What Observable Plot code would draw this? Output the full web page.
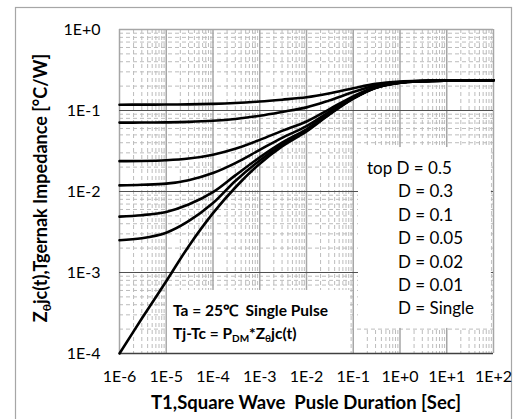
<!DOCTYPE html>
<html><head><meta charset="utf-8">
<script src="https://cdn.jsdelivr.net/npm/d3@7"></script>
<script src="https://cdn.jsdelivr.net/npm/@observablehq/plot@0.6"></script>
<style>
html,body{margin:0;padding:0;background:#fff;}
#chart{width:522px;height:419px;overflow:hidden;}
</style></head><body><div id="chart"></div>
<script>
// ---- data ----
const pulseDuration = [1e-6,3e-6,1e-5,3e-5,1e-4,3e-4,1e-3,3e-3,1e-2,3e-2,1e-1,3e-1,1,3,10,100];
const dutyLabels = ["0.5","0.3","0.1","0.05","0.02","0.01","Single"];
const zD050 = [0.118,0.1181,0.1184,0.1191,0.1207,0.1236,0.129,0.136,0.1455,0.162,0.188,0.213,0.228,0.233,0.235,0.236];
const zD030 = [0.0709,0.0710,0.0714,0.0723,0.0746,0.0786,0.0862,0.096,0.1093,0.1324,0.1688,0.2038,0.2248,0.2318,0.2346,0.236];
const zD010 = [0.0237,0.0238,0.0243,0.0255,0.0285,0.0337,0.0434,0.056,0.0731,0.1028,0.1496,0.1946,0.2216,0.2306,0.2342,0.236];
const zD005 = [0.0119,0.0121,0.0125,0.0138,0.0169,0.0224,0.0327,0.046,0.0641,0.0954,0.1448,0.1923,0.2208,0.2303,0.2341,0.236];
const zD002 = [0.0049,0.0051,0.0056,0.0069,0.0098,0.0158,0.0264,0.0401,0.0587,0.091,0.1418,0.1908,0.2204,0.2302,0.2341,0.236];
const zD001 = [0.0025,0.00265,0.0031,0.0043,0.0072,0.0135,0.0242,0.038,0.0569,0.0895,0.141,0.1904,0.2204,0.2301,0.2341,0.236];
const zSingle = [0.0001,0.00027,0.00078,0.0021,0.0054,0.0112,0.022,0.036,0.055,0.088,0.14,0.19,0.22,0.23,0.234,0.236];
const xTickValues = [1e-6,1e-5,1e-4,1e-3,1e-2,1e-1,1,10,100];
const xTickLabels = ["1E-6","1E-5","1E-4","1E-3","1E-2","1E-1","1E+0","1E+1","1E+2"];
const yTickValues = [1e-4,1e-3,1e-2,1e-1,1];
const yTickLabels = ["1E-4","1E-3","1E-2","1E-1","1E+0"];
const legendLines = ["top D = 0.5","D = 0.3","D = 0.1","D = 0.05","D = 0.02","D = 0.01","D = Single"];

// ---- build table ----
const seriesValues = [zD050,zD030,zD010,zD005,zD002,zD001,zSingle];
const rows = [];
seriesValues.forEach((vals, s) => vals.forEach((z, i) => rows.push({D: dutyLabels[s], t: pulseDuration[i], z})));

const minorX = [], minorY = [];
for (let i = 0; i < xTickValues.length - 1; i++) for (let k = 2; k <= 9; k++) minorX.push(xTickValues[i] * k);
for (let i = 0; i < yTickValues.length - 1; i++) for (let k = 2; k <= 9; k++) minorY.push(yTickValues[i] * k);

const font = "Lato, 'Open Sans', sans-serif";
const W = 522, H = 419, ML = 119, MR = 29, MT = 29, MB = 66;

const chart = Plot.plot({
  width: W, height: H,
  marginLeft: ML, marginRight: MR, marginTop: MT, marginBottom: MB,
  style: {fontFamily: font, background: "#fff", color: "#000", overflow: "visible"},
  x: {type: "log", domain: [1e-6, 100], axis: null},
  y: {type: "log", domain: [1e-4, 1], axis: null},
  marks: [
    Plot.ruleX(minorX, {stroke: "#bcbcbc", strokeWidth: 1, strokeDasharray: "4,3"}),
    Plot.ruleY(minorY, {stroke: "#bcbcbc", strokeWidth: 1, strokeDasharray: "4,3"}),
    Plot.ruleX(xTickValues, {stroke: "#a6a6a6", strokeWidth: 1.5}),
    Plot.ruleY([1], {stroke: "#a6a6a6", strokeWidth: 1.5}),
    Plot.ruleY([1e-3, 1e-2, 1e-1], {stroke: "#505050", strokeWidth: 1}),
    // annotation backgrounds
    Plot.rect([{}], {x1: 0.1295, x2: 90, y1: 2.04e-4, y2: 0.0349, fill: "#fff"}),
    Plot.rect([{}], {x1: 1.06e-5, x2: 0.0875, y1: 1e-4, y2: 6.0e-4, fill: "#fff"}),
    Plot.ruleY([1e-4], {stroke: "#404040", strokeWidth: 1.5}),
    Plot.line(rows, {x: "t", y: "z", z: "D", stroke: "#000", strokeWidth: 2.6, curve: "catmull-rom"}),
    Plot.axisX(xTickValues, {tickSize: 0, tickPadding: 17, fontSize: 16, label: null,
      tickFormat: d => xTickLabels[xTickValues.indexOf(d)]}),
    Plot.axisY(yTickValues, {tickSize: 0, tickPadding: 19, fontSize: 16, label: null,
      tickFormat: d => yTickLabels[yTickValues.indexOf(d)]})
  ]
});
document.getElementById("chart").appendChild(chart);

// ---- titles & annotations ----
const svg = d3.select(chart);
svg.insert("rect", ":first-child").attr("x", 15.5).attr("y", 7.5).attr("width", 496).attr("height", 430)
  .attr("fill", "#fff").attr("stroke", "#a6a6a6").attr("stroke-width", 1.2);

const g = svg.append("g").attr("font-family", font).attr("fill", "#000").attr("text-anchor", "start");

// y title
const yt = g.append("text").attr("transform", "translate(47,188) rotate(-90)")
  .attr("text-anchor", "middle").attr("font-weight", "bold").attr("font-size", 18);
yt.append("tspan").text("Z");
yt.append("tspan").attr("font-size", 12).attr("dy", 4).text("θ");
yt.append("tspan").attr("dy", -4).text("jc(t),Tgernak Impedance [°C/W]");

// x title
g.append("text").attr("x", 306).attr("y", 409).attr("text-anchor", "middle")
  .attr("font-weight", "bold").attr("font-size", 18.5)
  .style("white-space", "pre").text("T1,Square Wave  Pusle Duration [Sec]");

// lower-left annotation
g.append("text").attr("x", 173).attr("y", 316).attr("font-weight", "bold").attr("font-size", 15.5)
  .attr("text-anchor", "start").style("white-space", "pre").text("Ta = 25℃  Single Pulse");
const t2 = g.append("text").attr("x", 173).attr("y", 339).attr("font-weight", "bold").attr("font-size", 15.5)
  .attr("text-anchor", "start");
t2.append("tspan").text("Tj-Tc = P");
t2.append("tspan").attr("font-size", 10).attr("dy", 3).text("DM");
t2.append("tspan").attr("dy", -3).text("*Z");
t2.append("tspan").attr("font-size", 10).attr("dy", 3).text("θ");
t2.append("tspan").attr("dy", -3).text("jc(t)");

// legend
legendLines.forEach((s, i) => {
  g.append("text").attr("x", i === 0 ? 367 : 398).attr("y", 174 + i * 23.4)
    .attr("text-anchor", "start").attr("font-size", 17).text(s);
});
</script>
</body></html>
